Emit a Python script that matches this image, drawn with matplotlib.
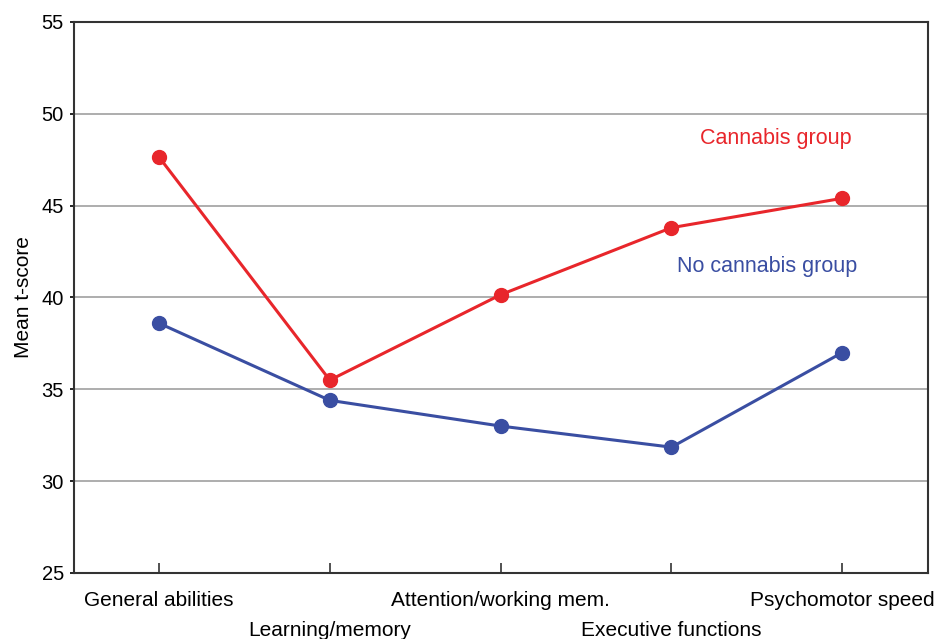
import matplotlib.pyplot as plt

plt.rcParams['font.family'] = ['Liberation Sans', 'DejaVu Sans']

domains = ['General abilities', 'Learning/memory', 'Attention/working mem.',
           'Executive functions', 'Psychomotor speed']
cannabis = [47.65, 35.5, 40.15, 43.8, 45.4]
no_cannabis = [38.6, 34.4, 33.0, 31.85, 37.0]

red = '#e8262b'
blue = '#3a4ea2'

fig = plt.figure(figsize=(9.38, 6.39), dpi=100)
ax = fig.add_axes([0.0784, 0.1033, 0.9106, 0.8623])

x = list(range(len(domains)))
ax.plot(x, cannabis, color=red, lw=2.2, marker='o', ms=10, zorder=3)
ax.plot(x, no_cannabis, color=blue, lw=2.2, marker='o', ms=10, zorder=3)

ax.set_xlim(-0.5, len(domains) - 0.5)
ax.set_ylim(25, 55)
ax.set_yticks(range(25, 56, 5))
for yv in range(30, 55, 5):
    ax.axhline(yv, color='#a0a0a0', lw=1.2, zorder=1)

ax.set_xticks(x)
ax.set_xticklabels([])
ax.tick_params(axis='x', direction='in', length=7, width=1.2, color='#333333')
ax.tick_params(axis='y', direction='out', length=3, width=1.2, labelsize=14.5, pad=4)
# labels alternate between two rows
for i, lab in enumerate(domains):
    off = -0.06 if i % 2 == 0 else -0.114
    ax.text(i, off, lab, transform=ax.get_xaxis_transform(), ha='center', va='baseline', fontsize=15)

for s in ax.spines.values():
    s.set_color('#333333')
    s.set_linewidth(1.5)

ax.set_ylabel('Mean t-score', fontsize=15, labelpad=6)

ax.text(3.61, 48.65, 'Cannabis group', color=red, fontsize=15.5, ha='center', va='center')
ax.text(3.56, 41.7, 'No cannabis group', color=blue, fontsize=15.5, ha='center', va='center')

fig.savefig('out.png', dpi=100)
